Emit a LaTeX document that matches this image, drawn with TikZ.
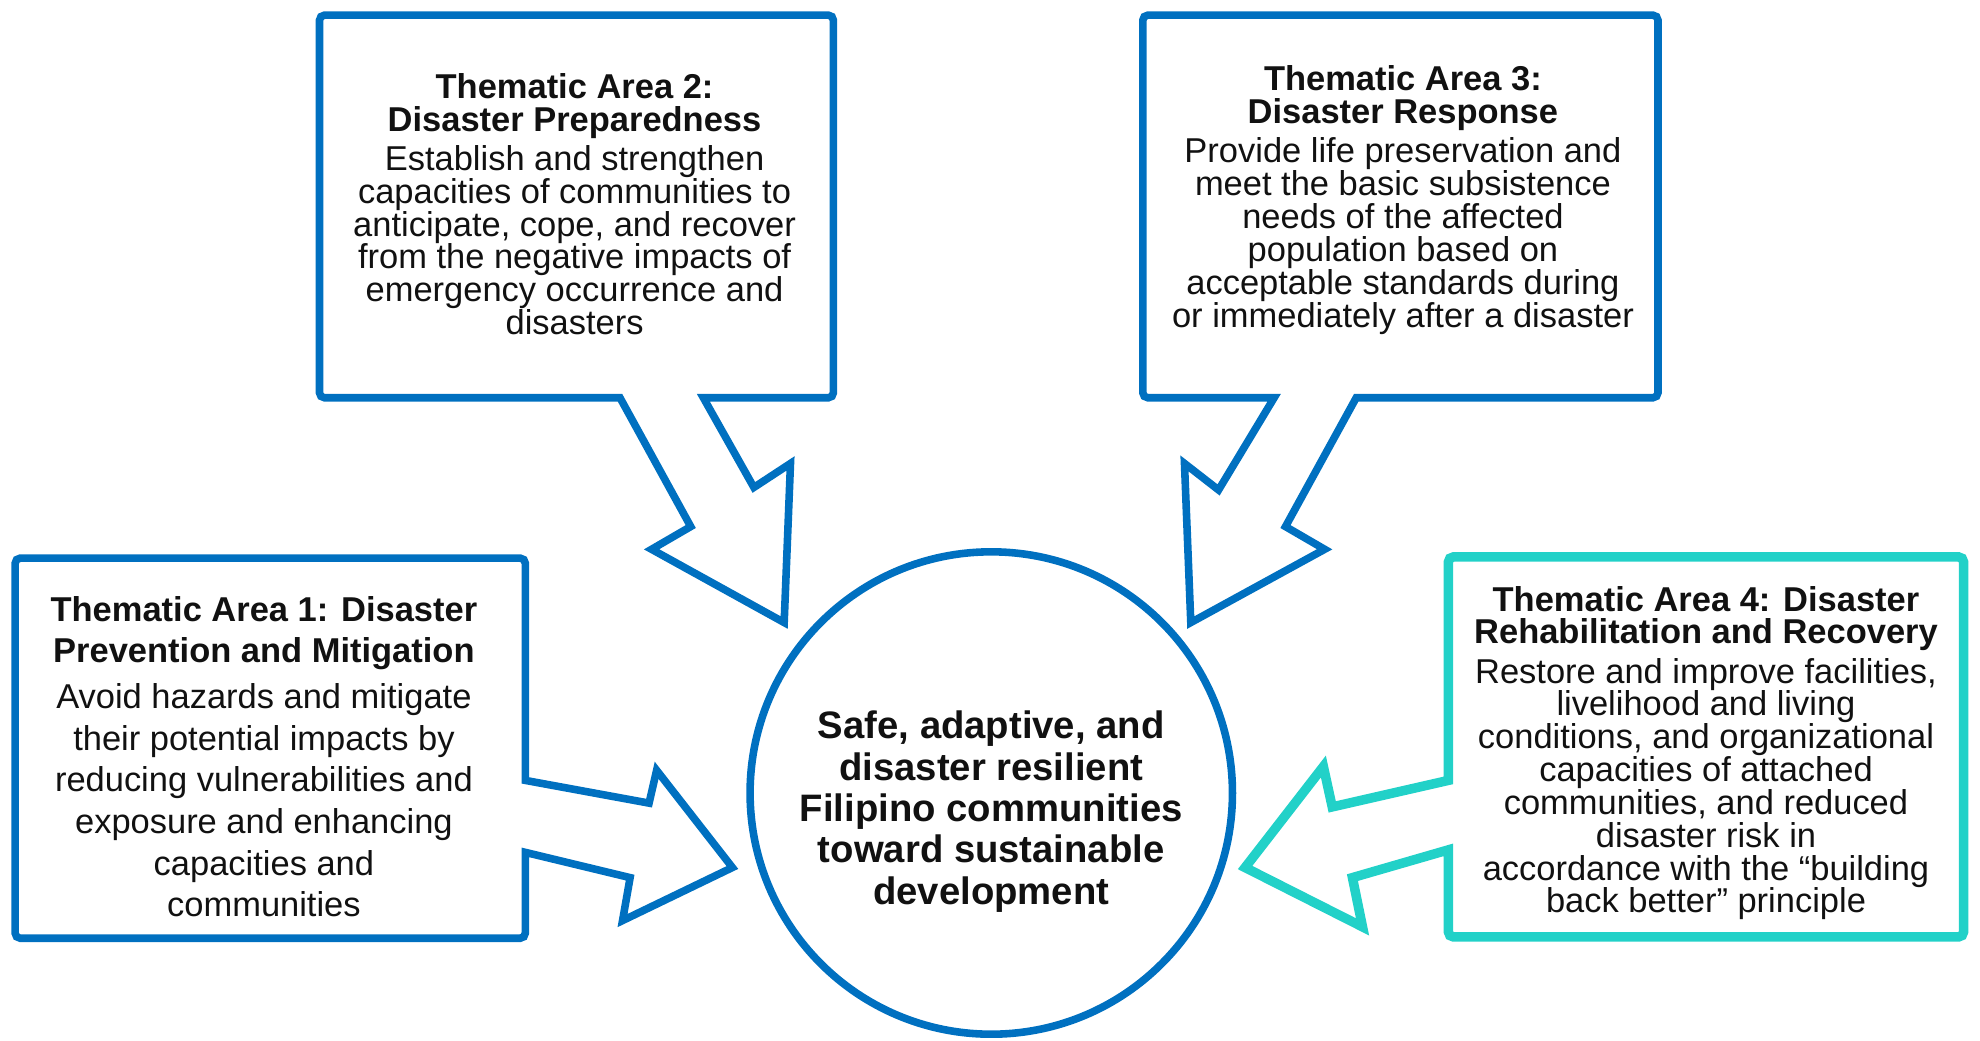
\documentclass[tikz,border=0pt]{standalone}
\usepackage{fontspec}
\setmainfont{Liberation Sans}
\usepackage{xcolor}
\definecolor{area-blue}{HTML}{0070C0}
\definecolor{area-teal}{HTML}{22D1C8}
\definecolor{area-ink}{HTML}{111111}
\usepackage{tikz}

\begin{document}
\begin{tikzpicture}[x=1pt, y=-1pt,
    callout/.style={line width=6pt, line join=miter},
    areatext/.style={anchor=north, inner sep=0pt, align=center, text=area-ink,
        font=\fontsize{27.3}{26}\selectfont}]

    % Frame
    \useasboundingbox (0, 0) rectangle (1568, 824);

    % Thematic area 1
    \draw[callout, area-blue] (416, 618) -- (514, 636) -- (520, 610) -- (580, 687)
        -- (493, 729) -- (499, 695) -- (416, 675) [rounded corners=4pt] -- (416, 743)
        -- (12, 743) -- (12, 442) -- (416, 442) [sharp corners] -- cycle;
    \node[areatext, font=\fontsize{27.3}{33}\selectfont] (area1) at (209, 472)
        {\textbf{Thematic Area 1: Disaster}\\\textbf{Prevention and Mitigation}\\[3pt]Avoid hazards and mitigate\\their potential impacts by\\reducing vulnerabilities and\\exposure and enhancing\\capacities and\\communities};

    % Thematic area 2
    \draw[callout, area-blue] (491, 315) [rounded corners=4pt] -- (253, 315) -- (253, 12)
        -- (660, 12) -- (660, 315) [sharp corners] -- (557, 315) -- (597, 386)
        -- (626, 367) -- (621, 493) -- (516, 435) -- (547, 417) -- cycle;
    \node[areatext] (area2) at (455, 58)
        {\textbf{Thematic Area 2:}\\\textbf{Disaster Preparedness}\\[5pt]Establish and strengthen\\capacities of communities to\\anticipate, cope, and recover\\from the negative impacts of\\emergency occurrence and\\disasters};

    % Thematic area 3
    \draw[callout, area-blue] (1074, 315) [rounded corners=4pt] -- (1313, 315) -- (1313, 12)
        -- (905, 12) -- (905, 315) [sharp corners] -- (1009, 315) -- (965, 388)
        -- (938, 367) -- (943, 493) -- (1049, 435) -- (1018, 417) -- cycle;
    \node[areatext] (area3) at (1111, 52)
        {\textbf{Thematic Area 3:}\\\textbf{Disaster Response}\\[5pt]Provide life preservation and\\meet the basic subsistence\\needs of the affected\\population based on\\acceptable standards during\\or immediately after a disaster};

    % Thematic area 4
    \draw[callout, area-teal, line width=7.5pt] (1147, 618) -- (1055, 639) -- (1048, 607)
        -- (986, 687) -- (1079, 734) -- (1071, 695) -- (1147, 673) [rounded corners=4pt]
        -- (1147, 742) -- (1555, 742) -- (1555, 441) -- (1147, 441) [sharp corners] -- cycle;
    \node[areatext] (area4) at (1351, 464)
        {\textbf{Thematic Area 4: Disaster}\\\textbf{Rehabilitation and Recovery}\\[5pt]Restore and improve facilities,\\livelihood and living\\conditions, and organizational\\capacities of attached\\communities, and reduced\\disaster risk in\\accordance with the “building\\back better” principle};

    % Goal
    \node[circle, draw=area-blue, line width=6pt, minimum size=382pt, inner sep=0pt]
        (goal) at (785, 628) {};
    \node[areatext, font=\bfseries\fontsize{30.3}{32.7}\selectfont] (goaltext) at (785, 563)
        {Safe, adaptive, and\\disaster resilient\\Filipino communities\\toward sustainable\\development};

\end{tikzpicture}
\end{document}
